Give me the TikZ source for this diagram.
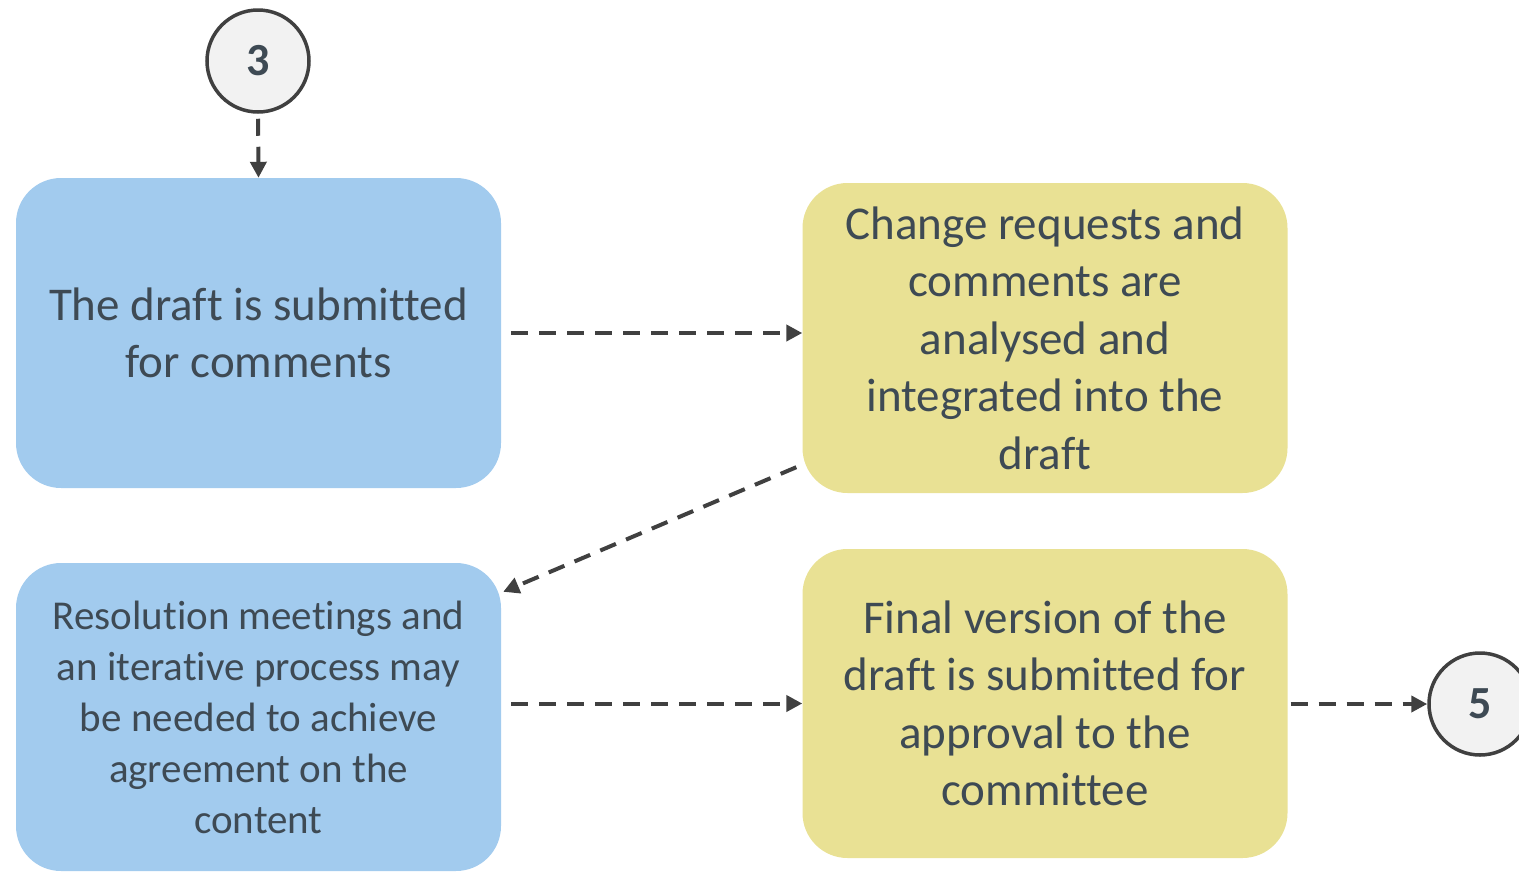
\documentclass[tikz,border=0pt]{standalone}
\usepackage{fontspec}
\setmainfont{Carlito}[Ligatures=NoCommon]
\usetikzlibrary{arrows.meta,calc}
\definecolor{boxblue}{HTML}{A2CBEE}
\definecolor{boxyellow}{HTML}{E9E194}
\definecolor{txt}{HTML}{3E4A54}
\definecolor{linec}{HTML}{404040}
\definecolor{circfill}{HTML}{F2F2F2}
\tikzset{
  card/.style={rounded corners=45pt, minimum width=485pt, text=txt, align=center, inner sep=0pt},
  bluecard/.style={card, fill=boxblue},
  yellowcard/.style={card, fill=boxyellow},
  bigtext/.style={font=\fontsize{47}{57.5}\selectfont},
  smalltext/.style={font=\fontsize{41}{51}\selectfont},
  stepcirc/.style={circle, draw=linec, line width=3.5pt, fill=circfill, minimum size=102pt, inner sep=0pt, text=txt, font=\fontsize{46}{50}\selectfont\bfseries},
  arr/.style={draw=linec, line width=4pt, dash pattern=on 17pt off 11pt, -{Triangle[length=16pt,width=16pt]}}
}
\begin{document}
\begin{tikzpicture}[x=1pt,y=-1pt]
\useasboundingbox (0,0) rectangle (1519,871);
\node[stepcirc] (c3) at (258,61) {3};
\node[stepcirc] (c5) at (1480,704) {5};
\node[bluecard, minimum height=310pt, bigtext] (b1) at (258.5,333) {The draft is submitted\\for comments};
\node[yellowcard, minimum height=310pt, bigtext] (b2) at (1045,338) {Change requests and\\comments are\\analysed and\\integrated into the\\draft};
\node[bluecard, minimum height=308pt, smalltext] (b3) at (258.5,717) {Resolution meetings and\\an iterative process may\\be needed to achieve\\agreement on the\\content};
\node[yellowcard, minimum height=309pt, bigtext] (b4) at (1045,703.5) {Final version of the\\draft is submitted for\\approval to the\\committee};
\draw[arr, shorten <=5pt] (c3.south) -- (b1.north);
\draw[arr, shorten <=10pt] (b1.east) -- (b1.east -| b2.west);
\draw[arr] ($(b2.south west)+(-6,-26)$) -- ($(b3.north east)+(2,29)$);
\draw[arr] ([xshift=10pt]b3.east |- b4.west) -- (b4.west);
\draw[arr] ([xshift=3pt]b4.east |- c5.west) -- (c5.west);
\end{tikzpicture}
\end{document}
